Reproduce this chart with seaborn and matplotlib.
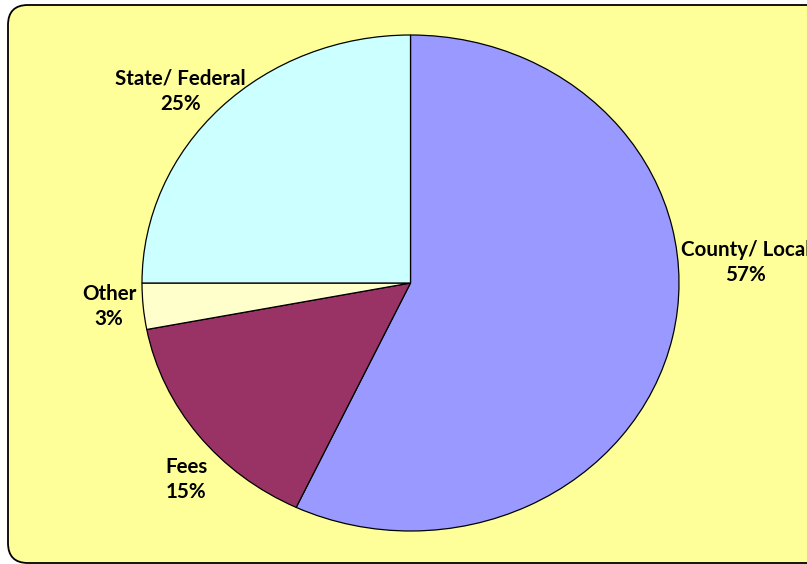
import matplotlib
matplotlib.use("Agg")
import matplotlib.pyplot as plt
from matplotlib.patches import FancyBboxPatch
from matplotlib.transforms import IdentityTransform
import seaborn as sns

sns.set_style("white")
plt.rcParams['font.family'] = ['Lato', 'DejaVu Sans']

# data
categories = ['County/ Local', 'Fees', 'Other', 'State/ Federal']
shares = [57, 15, 3, 25]
colors = ['#9999FF', '#993366', '#FFFFCC', '#CCFFFF']

# label placement (pie data coords)
label_pos = [(1.249, 0.081), (-0.836, -0.794), (-1.123, -0.093), (-0.858, 0.774)]

W, H = 807, 564
fig = plt.figure(figsize=(W / 100, H / 100), dpi=100)
fig.patch.set_facecolor('white')

# yellow rounded panel (runs off the right edge like the original)
box = FancyBboxPatch((8, 1), 830, 558, boxstyle="round,pad=0,rounding_size=20",
                     transform=IdentityTransform(), facecolor='#FFFF99',
                     edgecolor='black', linewidth=1.3, zorder=0)
fig.add_artist(box)

# pie axes sized so the pie is slightly elliptical like the original
left, right, top, bottom = 142, 679, 35, 531
ax = fig.add_axes([left / W, 1 - bottom / H, (right - left) / W, (bottom - top) / H])
ax.patch.set_alpha(0)

ax.pie(shares, colors=colors, startangle=90, counterclock=False,
       wedgeprops=dict(edgecolor='black', linewidth=0.9))
ax.set_aspect('auto')
ax.set_xlim(-1, 1)
ax.set_ylim(-1, 1)
ax.axis('off')

for name, val, (x, y) in zip(categories, shares, label_pos):
    ax.text(x, y, f"{name}\n{val}%", ha='center', va='center', fontsize=14.8,
            fontweight='bold', linespacing=1.32, clip_on=False, color='black')

fig.savefig('out.png', dpi=100)
